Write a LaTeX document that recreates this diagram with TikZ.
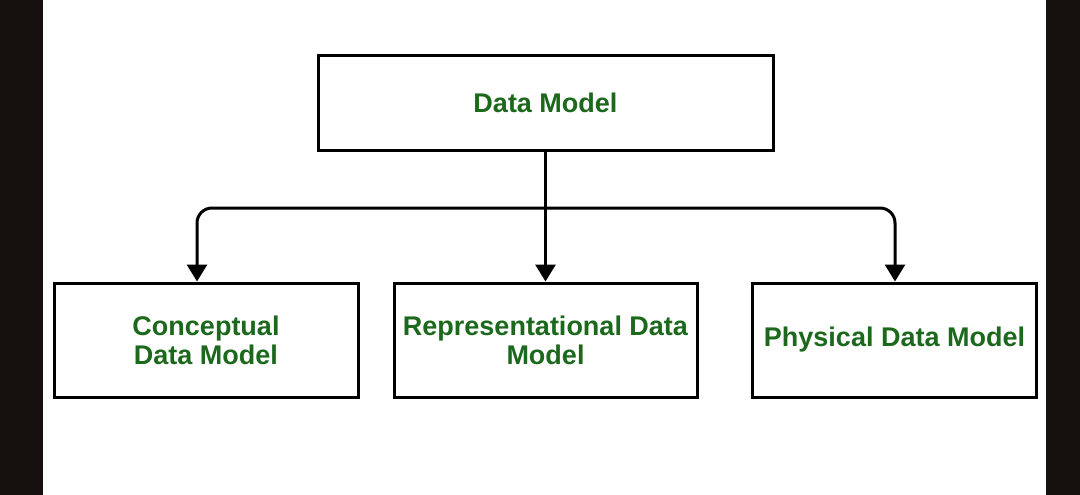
\documentclass[tikz,border=0pt]{standalone}
\usepackage{fontspec}
\setmainfont{Liberation Sans}
\usepackage{tikz}
\usetikzlibrary{arrows.meta}
\usepackage{xcolor}
\definecolor{verdeTesto}{RGB}{28,104,28}
\definecolor{bordoScuro}{RGB}{22,17,14}

\begin{document}
\begin{tikzpicture}[x = 1pt, y = -1pt,
    riquadro/.style = {draw, rectangle, line width = 3pt, align = center, inner sep = 0pt, text = verdeTesto, font = \fontsize{27}{29}\selectfont\bfseries},
    freccia/.style = {line width = 3pt, rounded corners = 15pt, -{Triangle[width = 20pt, length = 17pt]}}]
    % Parametri
    \pgfmathsetmacro{\yfiglio}{340}
    \pgfmathsetmacro{\hfiglio}{114}
    \pgfmathsetmacro{\ybivio}{208}
    % Sfondo
    \useasboundingbox (0,0) rectangle (1080,495);
    \fill[white] (0,0) rectangle (1080,495);
    \fill[bordoScuro] (0,0) rectangle (43,495);
    \fill[bordoScuro] (1046,0) rectangle (1080,495);
    % Riquadri
    \node[riquadro, minimum width = 455pt, minimum height = 95pt] (dm) at (545.5,103){Data Model};
    \node[riquadro, minimum width = 304pt, minimum height = \hfiglio pt] (cdm) at (206,\yfiglio){Conceptual\\Data Model};
    \node[riquadro, minimum width = 303pt, minimum height = \hfiglio pt] (rdm) at (545.5,\yfiglio){Representational Data\\Model};
    \node[riquadro, minimum width = 284pt, minimum height = \hfiglio pt] (pdm) at (894.5,\yfiglio){Physical Data Model};
    % Frecce
    \coordinate (bivio) at (545.5,\ybivio);
    \coordinate (sx) at (197,\ybivio);
    \coordinate (dx) at (895,\ybivio);
    \draw[freccia] (dm.south) -- (rdm.north);
    \draw[freccia] (bivio) -- (sx) -- (sx |- cdm.north);
    \draw[freccia] (bivio) -- (dx) -- (dx |- pdm.north);
\end{tikzpicture}
\end{document}
